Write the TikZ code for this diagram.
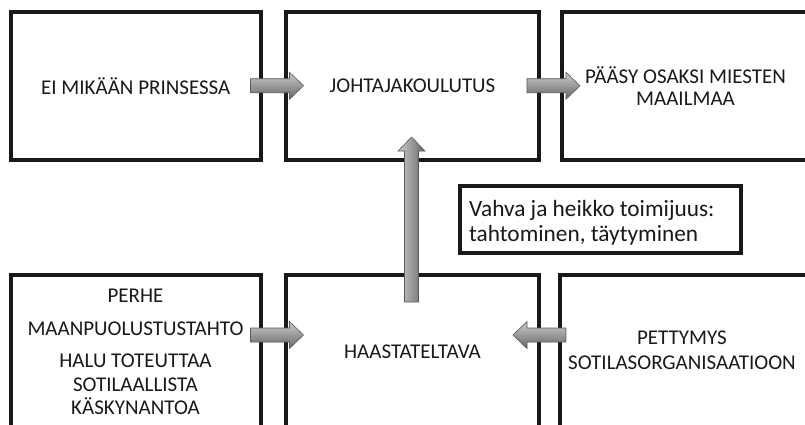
\documentclass[tikz,border=0pt]{standalone}
\usepackage{fontspec}
\setmainfont{Carlito}
\usetikzlibrary{calc}
\tikzset{
  box/.style={draw=black!90, line width=4pt, fill=white, inner sep=0pt},
  lbl/.style={font=\fontsize{21}{24}\selectfont, text=black!90, align=center, inner sep=0pt},
  arrowshape/.style={top color=gray!40, bottom color=gray!80!black, draw=gray!70!black, line width=0.6pt},
  varrowshape/.style={left color=gray!40, right color=gray!80!black, draw=gray!70!black, line width=0.6pt},
}
\newcommand\blockarr[4]{% #1 tail coordinate, #2 length, #3 angle, #4 style
  \begin{scope}[shift={(#1)}, rotate=#3]
    \path[#4] (0,-7) -- (#2-14,-7) -- (#2-14,-13.5) -- (#2,0) -- (#2-14,13.5) -- (#2-14,7) -- (0,7) -- cycle;
  \end{scope}}
\begin{document}
\begin{tikzpicture}[x=1pt,y=-1pt]
\clip (0,0) rectangle (805,425);
\fill[white] (0,0) rectangle (805,425);
% top row
\node[box, minimum width=249.5pt, minimum height=147.5pt] (b1) at (135.75,85.75) {};
\node[box, minimum width=252.5pt, minimum height=147.5pt] (b2) at (412.25,85.75) {};
\node[box, minimum width=253pt, minimum height=147.5pt] (b3) at (688.5,85.75) {};
% bottom row
\node[box, minimum width=249.5pt, minimum height=155pt] (b4) at (135.75,352.5) {};
\node[box, minimum width=252.5pt, minimum height=155pt] (b5) at (412.25,352.5) {};
\node[box, minimum width=255pt, minimum height=155pt] (b6) at (687.5,352.5) {};
% text box
\node[box, minimum width=281pt, minimum height=67pt] (tb) at (600.5,219.5) {};
% labels
\node[lbl] (t1) at (135.75,86) {EI MIKÄÄN PRINSESSA};
\node[lbl] (t2) at (412.5,86) {JOHTAJAKOULUTUS};
\node[lbl] (t3) at (685.5,86) {PÄÄSY OSAKSI MIESTEN\\[-1.5pt]MAAILMAA};
\node[lbl] (t4) at (135.5,351.5) {PERHE\\[9pt]MAANPUOLUSTUSTAHTO\\[8pt]HALU TOTEUTTAA\\[0pt]SOTILAALLISTA\\[-1pt]KÄSKYNANTOA};
\node[lbl] (t5) at (412.5,352) {HAASTATELTAVA};
\node[lbl] (t6) at (682,350.5) {PETTYMYS\\[1pt]SOTILASORGANISAATIOON};
\node[lbl, font=\fontsize{23.3}{25}\selectfont, align=left, anchor=west] (t7) at (469,222.5) {Vahva ja heikko toimijuus:\\tahtominen, täytyminen};
% arrows
\coordinate (a1) at ($(b1.east)+(-12,0)$);
\coordinate (a2) at ($(b2.east)+(-13.5,0)$);
\coordinate (a3) at (411.5,302);
\coordinate (a4) at ($(b4.east |- 0,335)+(-12,0)$);
\coordinate (a5) at ($(b6.west |- 0,335)+(8,0)$);
\blockarr{a1}{53}{0}{arrowshape}
\blockarr{a2}{53}{0}{arrowshape}
\blockarr{a3}{165}{90}{varrowshape}
\blockarr{a4}{53}{0}{arrowshape}
\blockarr{a5}{53}{180}{arrowshape}
\end{tikzpicture}
\end{document}
